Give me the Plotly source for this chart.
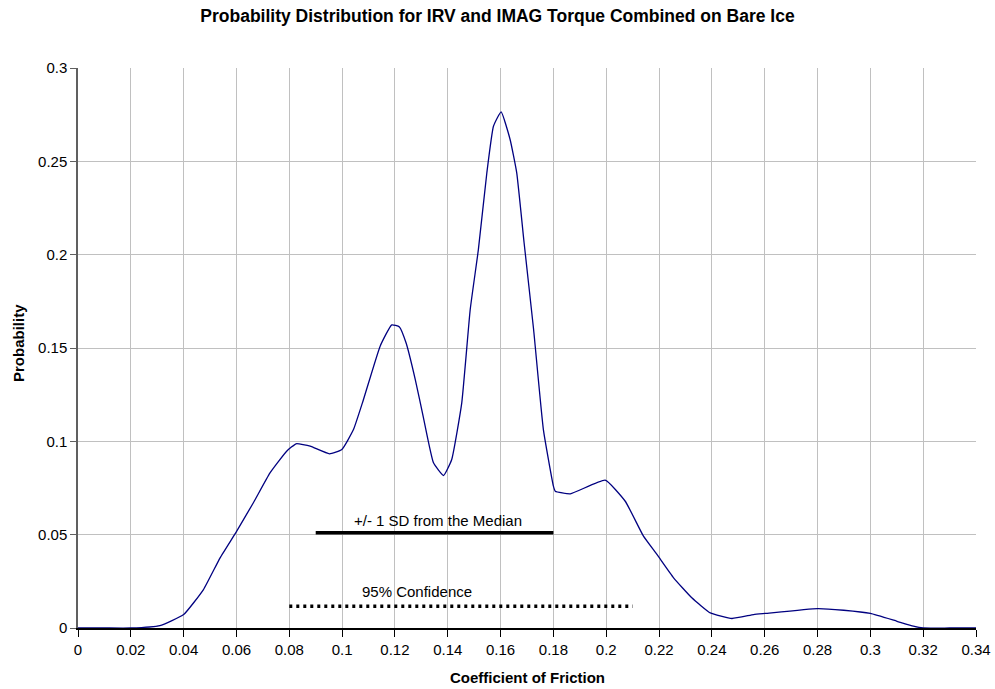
import plotly.graph_objects as go

# Probability density curve
friction = [0.0, 0.01, 0.02, 0.031, 0.040, 0.0475, 0.0538, 0.0601, 0.0664, 0.0727,
            0.079, 0.0826, 0.0879, 0.0952, 0.0999, 0.1043, 0.108, 0.1144, 0.1188,
            0.1217, 0.1242, 0.1277, 0.1308, 0.1346, 0.1384, 0.1415, 0.1453, 0.1485,
            0.1516, 0.1548, 0.1573, 0.1602, 0.1636, 0.1661, 0.1689, 0.1725, 0.1762,
            0.1800, 0.1807, 0.1864, 0.1996, 0.2072, 0.2141, 0.2192, 0.2255, 0.2324,
            0.2394, 0.2476, 0.2558, 0.2602, 0.2800, 0.2899, 0.3000, 0.3101, 0.3163,
            0.3200, 0.3300, 0.3400]
probability = [0.0, 0.0, 0.0, 0.0013, 0.0072, 0.0206, 0.0376, 0.0519, 0.0671, 0.0831,
               0.0947, 0.0987, 0.0974, 0.0933, 0.0956, 0.1063, 0.122, 0.151, 0.1624,
               0.1613, 0.1528, 0.1331, 0.1126, 0.0885, 0.0817, 0.0903, 0.1206, 0.1706,
               0.2028, 0.2439, 0.2688, 0.2765, 0.2617, 0.2439, 0.2064, 0.1599, 0.1063,
               0.076, 0.0733, 0.0719, 0.0792, 0.0679, 0.0492, 0.0394, 0.0269, 0.0162,
               0.0081, 0.0051, 0.0072, 0.0078, 0.0104, 0.0095, 0.0078, 0.0036, 0.001,
               0.0, 0.0, 0.0]

# Range markers
sd_x = [0.09, 0.18]
sd_y = [0.051, 0.051]
ci_x = [0.08, 0.21]
ci_y = [0.0117, 0.0117]

x_ticks = [round(i * 0.02, 2) for i in range(18)]
x_labels = ["0", "0.02", "0.04", "0.06", "0.08", "0.1", "0.12", "0.14", "0.16",
            "0.18", "0.2", "0.22", "0.24", "0.26", "0.28", "0.3", "0.32", "0.34"]
y_ticks = [0, 0.05, 0.1, 0.15, 0.2, 0.25, 0.3]
y_labels = ["0", "0.05", "0.1", "0.15", "0.2", "0.25", "0.3"]

font = "Liberation Sans, Arial, sans-serif"

fig = go.Figure()
fig.add_trace(go.Scatter(x=friction, y=probability, mode="lines",
                         line=dict(color="#000080", width=1.3, shape="spline", smoothing=0.4),
                         showlegend=False, hoverinfo="skip"))
fig.add_trace(go.Scatter(x=sd_x, y=sd_y, mode="lines",
                         line=dict(color="black", width=3.5), showlegend=False))
fig.add_trace(go.Scatter(x=ci_x, y=ci_y, mode="lines",
                         line=dict(color="black", width=3.5, dash="3px,4px"), showlegend=False))

fig.add_annotation(x=0.1362, y=0.0576, text="+/- 1 SD from the Median", showarrow=False,
                   font=dict(family=font, size=15, color="black"))
fig.add_annotation(x=0.1283, y=0.0197, text="95% Confidence", showarrow=False,
                   font=dict(family=font, size=15, color="black"))

# Axis titles placed as paper annotations
fig.add_annotation(xref="paper", yref="paper", x=0.5, y=(628 - 677) / 560,
                   xanchor="center", yanchor="middle", showarrow=False,
                   text="<b>Coefficient of Friction</b>",
                   font=dict(family=font, size=15, color="black"))
fig.add_annotation(xref="paper", yref="paper", x=(18 - 78) / 898, y=(628 - 343) / 560,
                   xanchor="center", yanchor="middle", showarrow=False, textangle=-90,
                   text="<b>Probability</b>",
                   font=dict(family=font, size=15, color="black"))

fig.update_layout(
    width=995, height=689,
    margin=dict(l=78, r=19, t=68, b=61, autoexpand=False),
    paper_bgcolor="white", plot_bgcolor="white",
    title=dict(text="<b>Probability Distribution for IRV and IMAG Torque Combined on Bare Ice</b>",
               x=0.5, xanchor="center", y=1 - 16 / 689, yanchor="middle",
               font=dict(family=font, size=17.5, color="black")),
    font=dict(family=font, size=15, color="black"),
)
fig.update_xaxes(range=[0, 0.34], tickvals=x_ticks, ticktext=x_labels, automargin=False,
                 showgrid=True, gridcolor="#c0c0c0", gridwidth=1, zeroline=False,
                 showline=True, linecolor="black", linewidth=1.5,
                 ticks="outside", ticklen=7, tickcolor="black",
                 tickfont=dict(family=font, size=15))
fig.update_yaxes(range=[0, 0.3], tickvals=y_ticks, ticktext=y_labels, automargin=False,
                 showgrid=True, gridcolor="#c0c0c0", gridwidth=1, zeroline=False,
                 showline=True, linecolor="#606060", linewidth=1.5,
                 ticks="outside", ticklen=6, tickcolor="#606060",
                 tickfont=dict(family=font, size=15))

fig.write_html("out.html")
